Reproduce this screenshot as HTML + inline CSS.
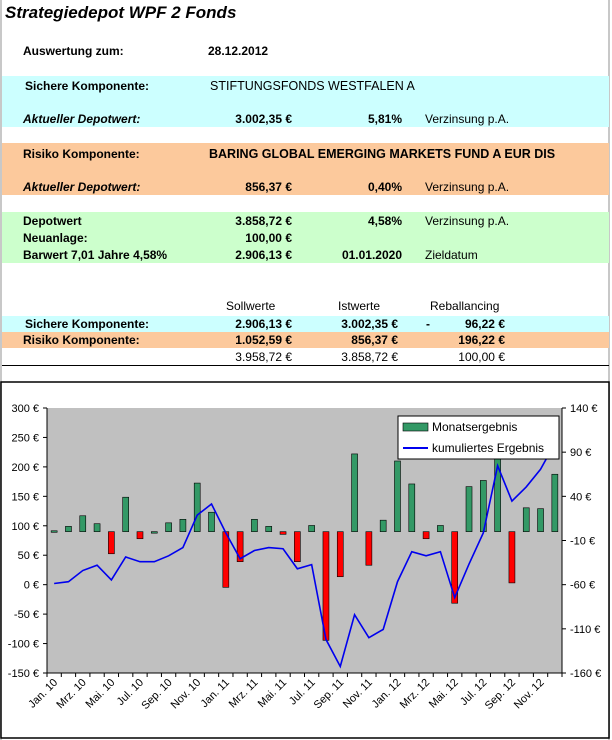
<!DOCTYPE html>
<html><head><meta charset="utf-8"><style>
body{margin:0;width:612px;height:740px;background:#fff;font-family:"Liberation Sans",Arial,sans-serif;font-size:12px;position:relative;overflow:hidden;color:#000}
.a{position:absolute;white-space:nowrap}
.b{font-weight:bold}.i{font-style:italic}
.r{text-align:right}
.band{position:absolute;left:2px;width:607px}
</style></head><body>
<div class="a" style="left:0;top:0;width:2px;height:740px;background:#c8c8c8"></div>
<div class="a" style="left:608px;top:0;width:2px;height:740px;background:#c8c8c8"></div>
<div class="a b i" style="left:5px;top:3px;font-size:17px">Strategiedepot WPF 2 Fonds</div>
<div class="a b" style="left:23px;top:44px">Auswertung zum:</div>
<div class="a b" style="left:208px;top:44px">28.12.2012</div>

<div class="band" style="top:76px;height:51px;background:#ccffff"></div>
<div class="a b" style="left:25px;top:79px">Sichere Komponente:</div>
<div class="a" style="left:210px;top:79px;font-size:12.5px">STIFTUNGSFONDS WESTFALEN A</div>
<div class="a b i" style="left:23px;top:112px">Aktueller Depotwert:</div>
<div class="a b r" style="left:192px;width:100px;top:112px">3.002,35 €</div>
<div class="a b r" style="left:340px;width:62px;top:112px">5,81%</div>
<div class="a" style="left:425px;top:112px">Verzinsung p.A.</div>

<div class="band" style="top:143px;height:52px;background:#fcc99c"></div>
<div class="a b" style="left:23px;top:147px">Risiko Komponente:</div>
<div class="a b" style="left:209px;top:147px;font-size:12.5px">BARING GLOBAL EMERGING MARKETS FUND A EUR DIS</div>
<div class="a b i" style="left:23px;top:180px">Aktueller Depotwert:</div>
<div class="a b r" style="left:192px;width:100px;top:180px">856,37 €</div>
<div class="a b r" style="left:340px;width:62px;top:180px">0,40%</div>
<div class="a" style="left:425px;top:180px">Verzinsung p.A.</div>

<div class="band" style="top:212px;height:51px;background:#ccffcc"></div>
<div class="a b" style="left:23px;top:214px">Depotwert</div>
<div class="a b r" style="left:192px;width:100px;top:214px">3.858,72 €</div>
<div class="a b r" style="left:340px;width:62px;top:214px">4,58%</div>
<div class="a" style="left:425px;top:214px">Verzinsung p.A.</div>
<div class="a b" style="left:23px;top:231px">Neuanlage:</div>
<div class="a b r" style="left:192px;width:100px;top:231px">100,00 €</div>
<div class="a b" style="left:23px;top:248px">Barwert 7,01 Jahre 4,58%</div>
<div class="a b r" style="left:192px;width:100px;top:248px">2.906,13 €</div>
<div class="a b r" style="left:320px;width:82px;top:248px">01.01.2020</div>
<div class="a" style="left:425px;top:248px">Zieldatum</div>

<div class="a" style="left:226px;top:299px">Sollwerte</div>
<div class="a" style="left:338px;top:299px">Istwerte</div>
<div class="a" style="left:430px;top:299px">Reballancing</div>
<div class="band" style="top:316px;height:16px;background:#ccffff"></div>
<div class="band" style="top:332px;height:16px;background:#fcc99c"></div>
<div class="a b" style="left:25px;top:317px">Sichere Komponente:</div>
<div class="a b r" style="left:192px;width:100px;top:317px">2.906,13 €</div>
<div class="a b r" style="left:298px;width:100px;top:317px">3.002,35 €</div>
<div class="a b" style="left:426px;top:317px">-</div>
<div class="a b r" style="left:405px;width:100px;top:317px">96,22 €</div>
<div class="a b" style="left:23px;top:333px">Risiko Komponente:</div>
<div class="a b r" style="left:192px;width:100px;top:333px">1.052,59 €</div>
<div class="a b r" style="left:298px;width:100px;top:333px">856,37 €</div>
<div class="a b r" style="left:405px;width:100px;top:333px">196,22 €</div>
<div class="a r" style="left:192px;width:100px;top:350px">3.958,72 €</div>
<div class="a r" style="left:298px;width:100px;top:350px">3.858,72 €</div>
<div class="a r" style="left:405px;width:100px;top:350px">100,00 €</div>
<div class="a" style="left:2px;top:365px;width:607px;height:1px;background:#000"></div>

<svg class="a" style="left:0;top:381px" width="612" height="359" id="chart">
<rect x="1" y="1" width="608" height="356" fill="#fff" stroke="#000" stroke-width="1.5"/>
</svg>
<script>
const months=["Jan. 10","Feb. 10","Mrz. 10","Apr. 10","Mai. 10","Jun. 10","Jul. 10","Aug. 10","Sep. 10","Okt. 10","Nov. 10","Dez. 10","Jan. 11","Feb. 11","Mrz. 11","Apr. 11","Mai. 11","Jun. 11","Jul. 11","Aug. 11","Sep. 11","Okt. 11","Nov. 11","Dez. 11","Jan. 12","Feb. 12","Mrz. 12","Apr. 12","Mai. 12","Jun. 12","Jul. 12","Aug. 12","Sep. 12","Okt. 12","Nov. 12","Dez. 12"];
const monatsergebnis=[1,6,18,9,-25,39,-8,0,10,14,55,22,-63,-34,14,6,-3,-34,7,-123,-51,88,-38,13,80,54,-8,7,-81,51,58,84,-58,27,26,65];
const kumuliert=[2,5,24,33,8,47,39,39,49,63,118,137,88,44,58,63,61,27,34,-93,-139,-51,-90,-76,5,56,49,56,-22,35,88,202,142,166,196,240];
const leftTicks=[300,250,200,150,100,50,0,-50,-100,-150];
const rightTicks=[140,90,40,-10,-60,-110,-160];
const NS="http://www.w3.org/2000/svg",svg=document.getElementById('chart');
const OY=381,X0=47,X1=562,YT=408-OY,YB=673-OY;
const yL=v=>YB-(v+150)/450*(YB-YT);
const yR=v=>YB-(v+160)/300*(YB-YT);
const cw=(X1-X0)/months.length;
const xC=i=>X0+cw*(i+0.5);
function el(t,a){const e=document.createElementNS(NS,t);for(const k in a)e.setAttribute(k,a[k]);svg.appendChild(e);return e;}
let e=el('rect',{x:X0,y:YT,width:X1-X0,height:YB-YT,fill:'#c0c0c0'});

el('line',{x1:X0,y1:YT,x2:X0,y2:YB,stroke:'#000'});
el('line',{x1:X1,y1:YT,x2:X1,y2:YB,stroke:'#000'});
el('line',{x1:X0,y1:YB,x2:X1,y2:YB,stroke:'#000'});
leftTicks.forEach(v=>{const y=yL(v);el('line',{x1:X0-4,y1:y,x2:X0,y2:y,stroke:'#000'});
const t=el('text',{x:X0-8,y:y+4,'text-anchor':'end','font-size':'11','font-family':'Liberation Sans, sans-serif'});t.textContent=v+' €';
});
rightTicks.forEach(v=>{const y=yR(v);el('line',{x1:X1,y1:y,x2:X1+4,y2:y,stroke:'#000'});
const t=el('text',{x:X1+8,y:y+4,'font-size':'11','font-family':'Liberation Sans, sans-serif'});t.textContent=v+' €';
});
for(let i=0;i<=months.length;i++){const x=X0+cw*i;el('line',{x1:x,y1:YB,x2:x,y2:YB+4,stroke:'#000'});}
months.forEach((m,i)=>{if(i%2)return;const x=xC(i)+4,y=YB+10;
const t=el('text',{x:x,y:y,'text-anchor':'end','font-size':'11','font-family':'Liberation Sans, sans-serif',transform:`rotate(-45 ${x} ${y})`});t.textContent=m;
});
const y0=yR(0),bw=6;
monatsergebnis.forEach((v,i)=>{const y=yR(v);
const b=el('rect',{x:xC(i)-bw/2,y:Math.min(y,y0),width:bw,height:Math.max(Math.abs(y-y0),1.5),fill:v>=0?'#339966':'#ff0000',stroke:'#000','stroke-width':'0.6'});
});
const p=el('polyline',{points:kumuliert.map((v,i)=>xC(i)+','+yL(v)).join(' '),fill:'none',stroke:'#0000ee','stroke-width':'1.6'});

const lg=el('rect',{x:398,y:416-OY,width:161,height:43,fill:'#fff',stroke:'#000'});

el('rect',{x:403,y:423-OY,width:25,height:8,fill:'#339966',stroke:'#000','stroke-width':'0.6'});
let t=el('text',{x:432,y:431-OY,'font-size':'12','font-family':'Liberation Sans, sans-serif'});t.textContent='Monatsergebnis';

el('line',{x1:403,y1:448-OY,x2:428,y2:448-OY,stroke:'#0000ee','stroke-width':'2'});
t=el('text',{x:432,y:452-OY,'font-size':'12','font-family':'Liberation Sans, sans-serif'});t.textContent='kumuliertes Ergebnis';

</script>
</body></html>
